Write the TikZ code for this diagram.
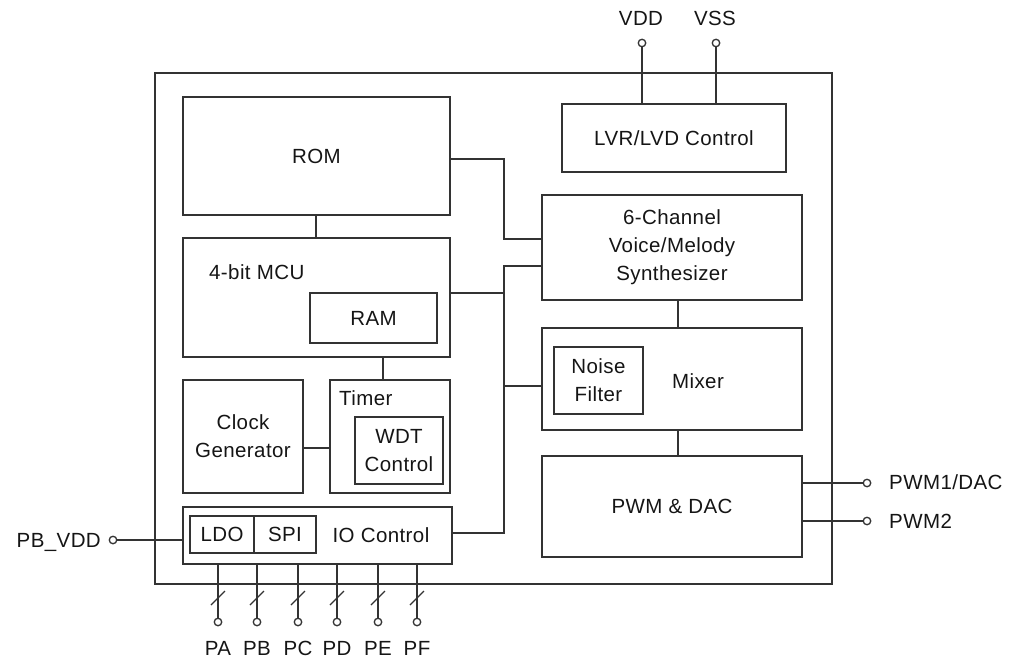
\documentclass[tikz,border=0pt]{standalone}
\usepackage{fontspec}
\setmainfont{Liberation Sans}[LetterSpace=2]
\definecolor{ln}{HTML}{333333}
\definecolor{tx}{HTML}{151515}
\begin{document}
\begin{tikzpicture}[x=1pt,y=-1pt,
  every node/.style={font=\fontsize{20.5}{28}\selectfont, text=tx},
  blk/.style={draw=ln, line width=1.6pt, inner sep=0pt, align=center},
  lbl/.style={inner sep=0pt, align=center},
  pin/.style={circle, draw=ln, line width=1.3pt, fill=white, minimum size=7.5pt, inner sep=0pt},
  wire/.style={draw=ln, line width=1.6pt}]
\useasboundingbox (0,0) rectangle (1009,661);
% outer frame
\node[blk, minimum width=677pt, minimum height=511pt] (outer) at (493.5,328.5) {};
% left column
\node[blk, minimum width=267pt, minimum height=118pt] (rom) at (316.5,156) {ROM};
\node[blk, minimum width=267pt, minimum height=119pt] (mcu) at (316.5,297.5) {};
\node[lbl, anchor=west] (mcut) at (209,272) {4-bit MCU};
\node[blk, minimum width=127pt, minimum height=50pt] (ram) at (373.5,318) {RAM};
\node[blk, minimum width=120pt, minimum height=113pt] (clk) at (243,436.5) {Clock\\Generator};
\node[blk, minimum width=120pt, minimum height=113pt] (tmr) at (390,436.5) {};
\node[lbl, anchor=west] (tmrt) at (339,398) {Timer};
\node[blk, minimum width=88pt, minimum height=67pt] (wdt) at (399,450.5) {WDT\\Control};
\node[blk, minimum width=269pt, minimum height=57pt] (io) at (317.5,535.5) {};
\node[blk, minimum width=64pt, minimum height=37pt] (ldo) at (222,534.5) {LDO};
\node[blk, minimum width=62pt, minimum height=37pt] (spi) at (285,534.5) {SPI};
\node[lbl] (iot) at (381,535) {IO Control};
% right column
\node[blk, minimum width=224pt, minimum height=68pt] (lvr) at (674,138) {LVR/LVD Control};
\node[blk, minimum width=260pt, minimum height=105pt] (syn) at (672,247.5) {6-Channel\\Voice/Melody\\Synthesizer};
\node[blk, minimum width=260pt, minimum height=102pt] (mix) at (672,379) {};
\node[blk, minimum width=89pt, minimum height=67pt] (nf) at (598.5,380.5) {Noise\\Filter};
\node[lbl] (mixt) at (698,381) {Mixer};
\node[blk, minimum width=260pt, minimum height=101pt] (pwm) at (672,506.5) {PWM \& DAC};
% bus
\coordinate (busx) at (504,0);
\draw[wire] (rom.east |- 0,159) -- (busx |- 0,159) -- (busx |- 0,239) -- (syn.west |- 0,239);
\draw[wire] (syn.west |- 0,266) -- (busx |- 0,266) -- (busx |- 0,533) -- (io.east |- 0,533);
\draw[wire] (mcu.east |- 0,293) -- (busx |- 0,293);
\draw[wire] (mix.west |- 0,386) -- (busx |- 0,386);
% internal links
\draw[wire] (rom.south -| 316,0) -- (mcu.north -| 316,0);
\draw[wire] (mcu.south -| 383,0) -- (tmr.north -| 383,0);
\draw[wire] (clk.east |- 0,448) -- (tmr.west |- 0,448);
\draw[wire] (syn.south -| 678,0) -- (mix.north -| 678,0);
\draw[wire] (mix.south -| 678,0) -- (pwm.north -| 678,0);
% supply pins
\node[pin] (vdd) at (642,43) {};
\node[pin] (vss) at (716,43) {};
\node[lbl] (vddt) at (641,18) {VDD};
\node[lbl] (vsst) at (715,18) {VSS};
\draw[wire] (vdd) -- (lvr.north -| vdd);
\draw[wire] (vss) -- (lvr.north -| vss);
% PWM outputs
\node[pin] (p1) at (867,483) {};
\node[pin] (p2) at (867,521) {};
\draw[wire] (pwm.east |- p1) -- (p1);
\draw[wire] (pwm.east |- p2) -- (p2);
\node[lbl, anchor=west] (p1t) at (889,482) {PWM1/DAC};
\node[lbl, anchor=west] (p2t) at (889,521) {PWM2};
% PB_VDD
\node[pin] (pbv) at (113,540) {};
\draw[wire] (pbv) -- (io.west |- pbv);
\node[lbl, anchor=east] (pbvt) at (101,542) {PB\_VDD};
% ports
\foreach \n/\x in {PA/218,PB/257,PC/298,PD/337,PE/378,PF/417}{
  \node[pin] (pin\n) at (\x,622) {};
  \draw[wire] (io.south -| pin\n) -- (pin\n);
  \draw[draw=ln, line width=1.3pt] ([shift={(-7,-17)}]pin\n.center) -- ([shift={(7,-31)}]pin\n.center);
  \node[lbl] (lab\n) at (\x,648) {\n};
}
\end{tikzpicture}
\end{document}
